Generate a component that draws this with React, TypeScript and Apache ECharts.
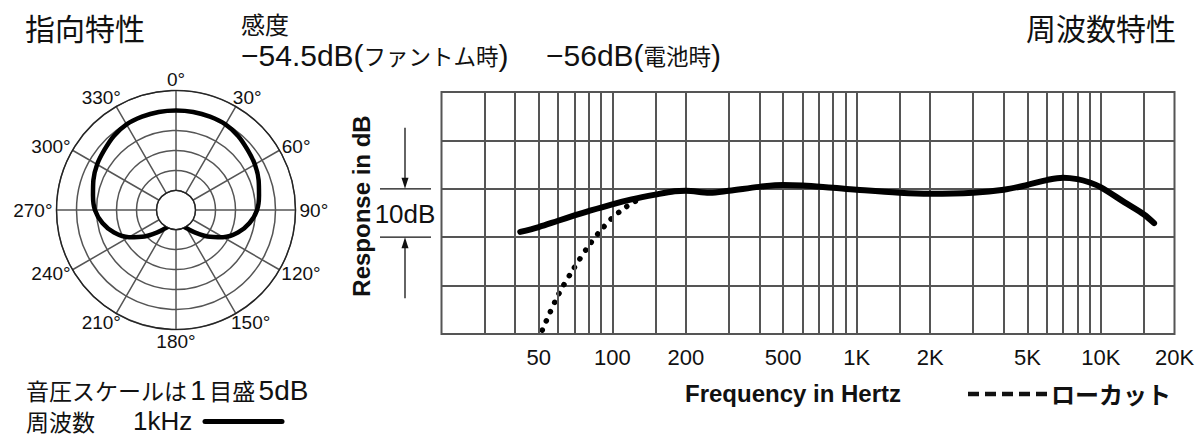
import React, { useEffect, useRef } from 'react';
import * as echarts from 'echarts';

const LATIN = "'Liberation Sans', 'Noto Sans CJK JP', sans-serif";
const JP = "'Noto Sans CJK JP', 'Liberation Sans', sans-serif";
const GRID = '#555';

// ---- Polar pattern (1 kHz), dB relative to on-axis, angle in degrees ----
const polarAnglesDeg = [200, 210, 220, 230, 240, 250, 260, 270, 280, 290, 300, 310, 320, 330, 340, 350,
  0, 10, 20, 30, 40, 50, 60, 70, 80, 90, 100, 110, 120, 130, 140, 150, 160];
const polarResponseDb = [-20.6, -19.6, -17.6, -14.6, -11.3, -8.4, -6.2, -4.6, -3.8, -2.9, -2.1, -1.5, -0.7, -0.15, -0.05, 0,
  0, 0, -0.05, -0.15, -0.7, -1.5, -2.1, -2.9, -3.8, -4.6, -6.2, -8.4, -11.3, -14.6, -17.6, -19.6, -20.6];
const polarRingMinDb = -20;
const polarRingMaxDb = 5;
const polarRingStepDb = 5;
const polarLabelAngles = [0, 30, 60, 90, 120, 150, 180, 210, 240, 270, 300, 330];
const polarAngleLabels = ['0°', '30°', '60°', '90°', '120°', '150°', '180°', '210°', '240°', '270°', '300°', '330°'];

// ---- Frequency response ----
const freqHz = [42, 50, 60, 70, 80, 100, 120, 150, 180, 200, 250, 300, 400, 500, 600, 800, 1000, 1500, 2000,
  3000, 4000, 5000, 6000, 7000, 8000, 9000, 10000, 12500, 15000, 16500];
const responseDb = [-8.9, -7.9, -6.6, -5.5, -4.6, -3.2, -2.2, -1.2, -0.5, -0.4, -0.8, -0.4, 0.4, 0.8, 0.7, 0.2, -0.2, -0.8, -1.0,
  -0.8, -0.2, 0.8, 1.8, 2.3, 2.0, 1.3, 0.3, -2.8, -5.3, -7.1];
const lowCutHz = [51.7, 60, 69.3, 80, 90, 100, 110, 120, 130];
const lowCutDb = [-29.2, -22, -16.6, -11.8, -8.5, -6.0, -4.3, -3.0, -2.1];

const gridFreqHz = [30, 40, 50, 60, 70, 80, 90, 100, 150, 200, 300, 400, 500, 600, 700, 800, 900, 1000, 1500,
  2000, 3000, 4000, 5000, 6000, 7000, 8000, 9000, 10000, 15000];
const freqTickHz = [50, 100, 200, 500, 1000, 2000, 5000, 10000, 20000];
const freqTickLabels = ['50', '100', '200', '500', '1K', '2K', '5K', '10K', '20K'];
const freqMinHz = 20;
const freqMaxHz = 20000;
const dbMin = -30;
const dbMax = 20;
const dbStep = 10;

const lg = (f: number) => Math.log10(f);

const RICH = {
  L: { fontFamily: LATIN, fontSize: 30, fill: '#111', lineHeight: 30 },
  L28: { fontFamily: LATIN, fontSize: 28, fill: '#111', lineHeight: 24 },
  J: { fontFamily: JP, fontSize: 22.5, fill: '#111', lineHeight: 30 },
  J23: { fontFamily: JP, fontSize: 23, fill: '#111', lineHeight: 24 },
  S: { fontFamily: LATIN, fontSize: 12, fill: '#111', lineHeight: 24 },
};

function txt(text: string, x: number, y: number, size: number, opts: any = {}) {
  const align = opts.align || 'left';
  const va = opts.va || 'middle';
  return {
    type: 'text',
    x,
    y,
    rotation: opts.rotation || 0,
    silent: true,
    z: 10,
    style: {
      text,
      fill: '#111',
      fontSize: size,
      fontWeight: opts.bold ? 'bold' : 'normal',
      fontFamily: opts.family || LATIN,
      lineHeight: opts.lineHeight,
      align,
      verticalAlign: va,
      textAlign: align,
      textVerticalAlign: va,
      rich: opts.rich ? RICH : undefined,
    },
  };
}

export default function App() {
  const ref = useRef<HTMLDivElement>(null);

  useEffect(() => {
    if (!ref.current) return;
    const chart = echarts.init(ref.current, null, { renderer: 'svg' });

    const option: any = {
      animation: false,
      backgroundColor: '#fff',
      polar: { center: [176, 210], radius: [19.5, 119.5] },
      angleAxis: {
        type: 'value',
        min: 0,
        max: 360,
        interval: 30,
        startAngle: 90,
        clockwise: true,
        axisLine: { show: true, lineStyle: { color: '#222', width: 1.2 } },
        axisTick: { show: false },
        splitLine: { show: true, lineStyle: { color: GRID, width: 1.5 } },
        axisLabel: { show: false },
      },
      radiusAxis: {
        type: 'value',
        min: polarRingMinDb,
        max: polarRingMaxDb,
        interval: polarRingStepDb,
        axisLine: { show: false },
        axisTick: { show: false },
        axisLabel: { show: false },
        splitLine: { show: true, lineStyle: { color: GRID, width: 1.5 } },
      },
      grid: {
        left: 441.5,
        top: 92,
        width: 733,
        height: 242,
        show: true,
        borderColor: GRID,
        borderWidth: 2,
        backgroundColor: 'transparent',
      },
      xAxis: {
        type: 'value',
        min: lg(freqMinHz),
        max: lg(freqMaxHz),
        axisLine: { show: false },
        axisTick: { show: false },
        splitLine: { show: false },
        axisLabel: {
          customValues: freqTickHz.map(lg),
          margin: 12,
          fontSize: 22,
          color: '#111',
          fontFamily: LATIN,
          formatter: (v: number) => {
            let best = 0;
            for (let i = 0; i < freqTickHz.length; i++) {
              if (Math.abs(lg(freqTickHz[i]) - v) < Math.abs(lg(freqTickHz[best]) - v)) best = i;
            }
            return freqTickLabels[best];
          },
        },
      },
      yAxis: {
        type: 'value',
        min: dbMin,
        max: dbMax,
        interval: dbStep,
        axisLine: { show: false },
        axisTick: { show: false },
        axisLabel: { show: false },
        splitLine: { show: true, lineStyle: { color: GRID, width: 2 } },
      },
      series: [
        {
          type: 'line',
          name: 'grid',
          data: [],
          z: 1,
          silent: true,
          markLine: {
            silent: true,
            symbol: ['none', 'none'],
            label: { show: false },
            emphasis: { disabled: true },
            lineStyle: { color: GRID, width: 2, type: 'solid' },
            data: gridFreqHz.map((f) => [{ coord: [lg(f), dbMin] }, { coord: [lg(f), dbMax] }]),
          },
        },
        {
          type: 'line',
          name: 'lowcut',
          data: lowCutHz.map((f, i) => [lg(f), lowCutDb[i]]),
          smooth: 0.3,
          showSymbol: false,
          silent: true,
          z: 4,
          lineStyle: { color: '#000', width: 5.5, type: [0.1, 10], cap: 'round' },
        },
        {
          type: 'line',
          name: 'response',
          data: freqHz.map((f, i) => [lg(f), responseDb[i]]),
          smooth: 0.35,
          showSymbol: false,
          silent: true,
          z: 5,
          lineStyle: { color: '#000', width: 6, cap: 'round', join: 'round' },
        },
        {
          type: 'line',
          name: 'polar',
          coordinateSystem: 'polar',
          data: polarAnglesDeg.map((a, i) => [polarResponseDb[i], a]),
          smooth: 0.3,
          showSymbol: false,
          silent: true,
          clip: false,
          z: 5,
          lineStyle: { color: '#000', width: 4.5, cap: 'round', join: 'round' },
        },
      ],
    };
    chart.setOption(option);

    const y0 = chart.convertToPixel({ gridIndex: 0 }, [lg(freqMinHz), 0])[1];
    const y10 = chart.convertToPixel({ gridIndex: 0 }, [lg(freqMinHz), -10])[1];
    const ax = 405;

    // polar angle labels placed just outside the outer ring
    const ctx = document.createElement('canvas').getContext('2d');
    const labelFont = 19;
    if (ctx) ctx.font = `${labelFont}px 'Liberation Sans', sans-serif`;
    let cx = 176;
    let cy = 210;
    let rOut = 119.5;
    try {
      const dbPerPx = (polarRingMaxDb - polarRingMinDb) / 100;
      const c = chart.convertToPixel({ polarIndex: 0 } as any, [polarRingMinDb - 19.5 * dbPerPx, 0]);
      const o = chart.convertToPixel({ polarIndex: 0 } as any, [polarRingMaxDb, 90]);
      if (c && o && isFinite(c[0]) && isFinite(o[0])) {
        cx = c[0];
        cy = c[1];
        rOut = o[0] - c[0];
      }
    } catch (e) {
      /* keep defaults */
    }
    const polarLabels = polarLabelAngles.map((a, i) => {
      const w = ctx ? ctx.measureText(polarAngleLabels[i]).width : 30;
      const t = (a * Math.PI) / 180;
      const s = Math.sin(t);
      const co = Math.cos(t);
      const dx = (rOut + 4) * s + Math.sign(Math.round(s * 1000)) * (w / 2) * Math.pow(Math.abs(s), 0.6);
      const dy = -(rOut + 4.5 + 7 * Math.abs(co)) * co;
      return txt(polarAngleLabels[i], cx + dx, cy + dy, labelFont, { align: 'center' });
    });

    const graphic: any[] = [
      ...polarLabels,
      txt('指向特性', 25, 27, 30, { family: JP }),
      txt('感度', 241, 23, 24, { family: JP }),
      txt('{L|−54.5dB(}{J|ファントム時}{L|)}', 241, 55, 24, { rich: true }),
      txt('{L|−56dB(}{J|電池時}{L|)}', 546, 55, 24, { rich: true }),
      txt('周波数特性', 1176, 27, 30, { align: 'right', family: JP }),
      txt('{J23|音圧スケールは}{S| }{L28|1}{S| }{J23|目盛}{S| }{L28|5dB}', 26, 390, 24, { rich: true, lineHeight: 24 }),
      txt('周波数', 26, 421, 23, { family: JP, lineHeight: 24 }),
      txt('1kHz', 133, 421, 26, { lineHeight: 24 }),
      {
        type: 'line', silent: true, z: 10,
        shape: { x1: 205, y1: 421.5, x2: 282, y2: 421.5 },
        style: { stroke: '#000', lineWidth: 5, lineCap: 'round' },
      },
      txt('Response in dB', 361, 206, 24, { bold: true, align: 'center', rotation: Math.PI / 2 }),
      txt('10dB', ax, (y0 + y10) / 2 + 1, 26, { align: 'center' }),
      {
        type: 'line', silent: true, z: 10,
        shape: { x1: 380, y1: y0, x2: 431, y2: y0 },
        style: { stroke: '#111', lineWidth: 1.3 },
      },
      {
        type: 'line', silent: true, z: 10,
        shape: { x1: 380, y1: y10, x2: 431, y2: y10 },
        style: { stroke: '#111', lineWidth: 1.3 },
      },
      {
        type: 'line', silent: true, z: 10,
        shape: { x1: ax, y1: y0 - 61, x2: ax, y2: y0 - 8 },
        style: { stroke: '#111', lineWidth: 1.3 },
      },
      {
        type: 'polygon', silent: true, z: 10,
        shape: { points: [[ax - 3.5, y0 - 11], [ax + 3.5, y0 - 11], [ax, y0]] },
        style: { fill: '#111' },
      },
      {
        type: 'line', silent: true, z: 10,
        shape: { x1: ax, y1: y10 + 8, x2: ax, y2: y10 + 61 },
        style: { stroke: '#111', lineWidth: 1.3 },
      },
      {
        type: 'polygon', silent: true, z: 10,
        shape: { points: [[ax - 3.5, y10 + 11], [ax + 3.5, y10 + 11], [ax, y10]] },
        style: { fill: '#111' },
      },
      txt('Frequency in Hertz', 685, 393, 24, { bold: true }),
      {
        type: 'line', silent: true, z: 10,
        shape: { x1: 968, y1: 394, x2: 1047, y2: 394 },
        style: { stroke: '#111', lineWidth: 4.5, lineDash: [11, 6] },
      },
      txt('ローカット', 1051, 393, 24, { bold: true, family: JP }),
    ];
    chart.setOption({ graphic });

    return () => chart.dispose();
  }, []);

  return (
    <div
      ref={ref}
      style={{ position: 'fixed', left: 0, top: 0, width: 1200, height: 440, background: '#fff' }}
    />
  );
}
